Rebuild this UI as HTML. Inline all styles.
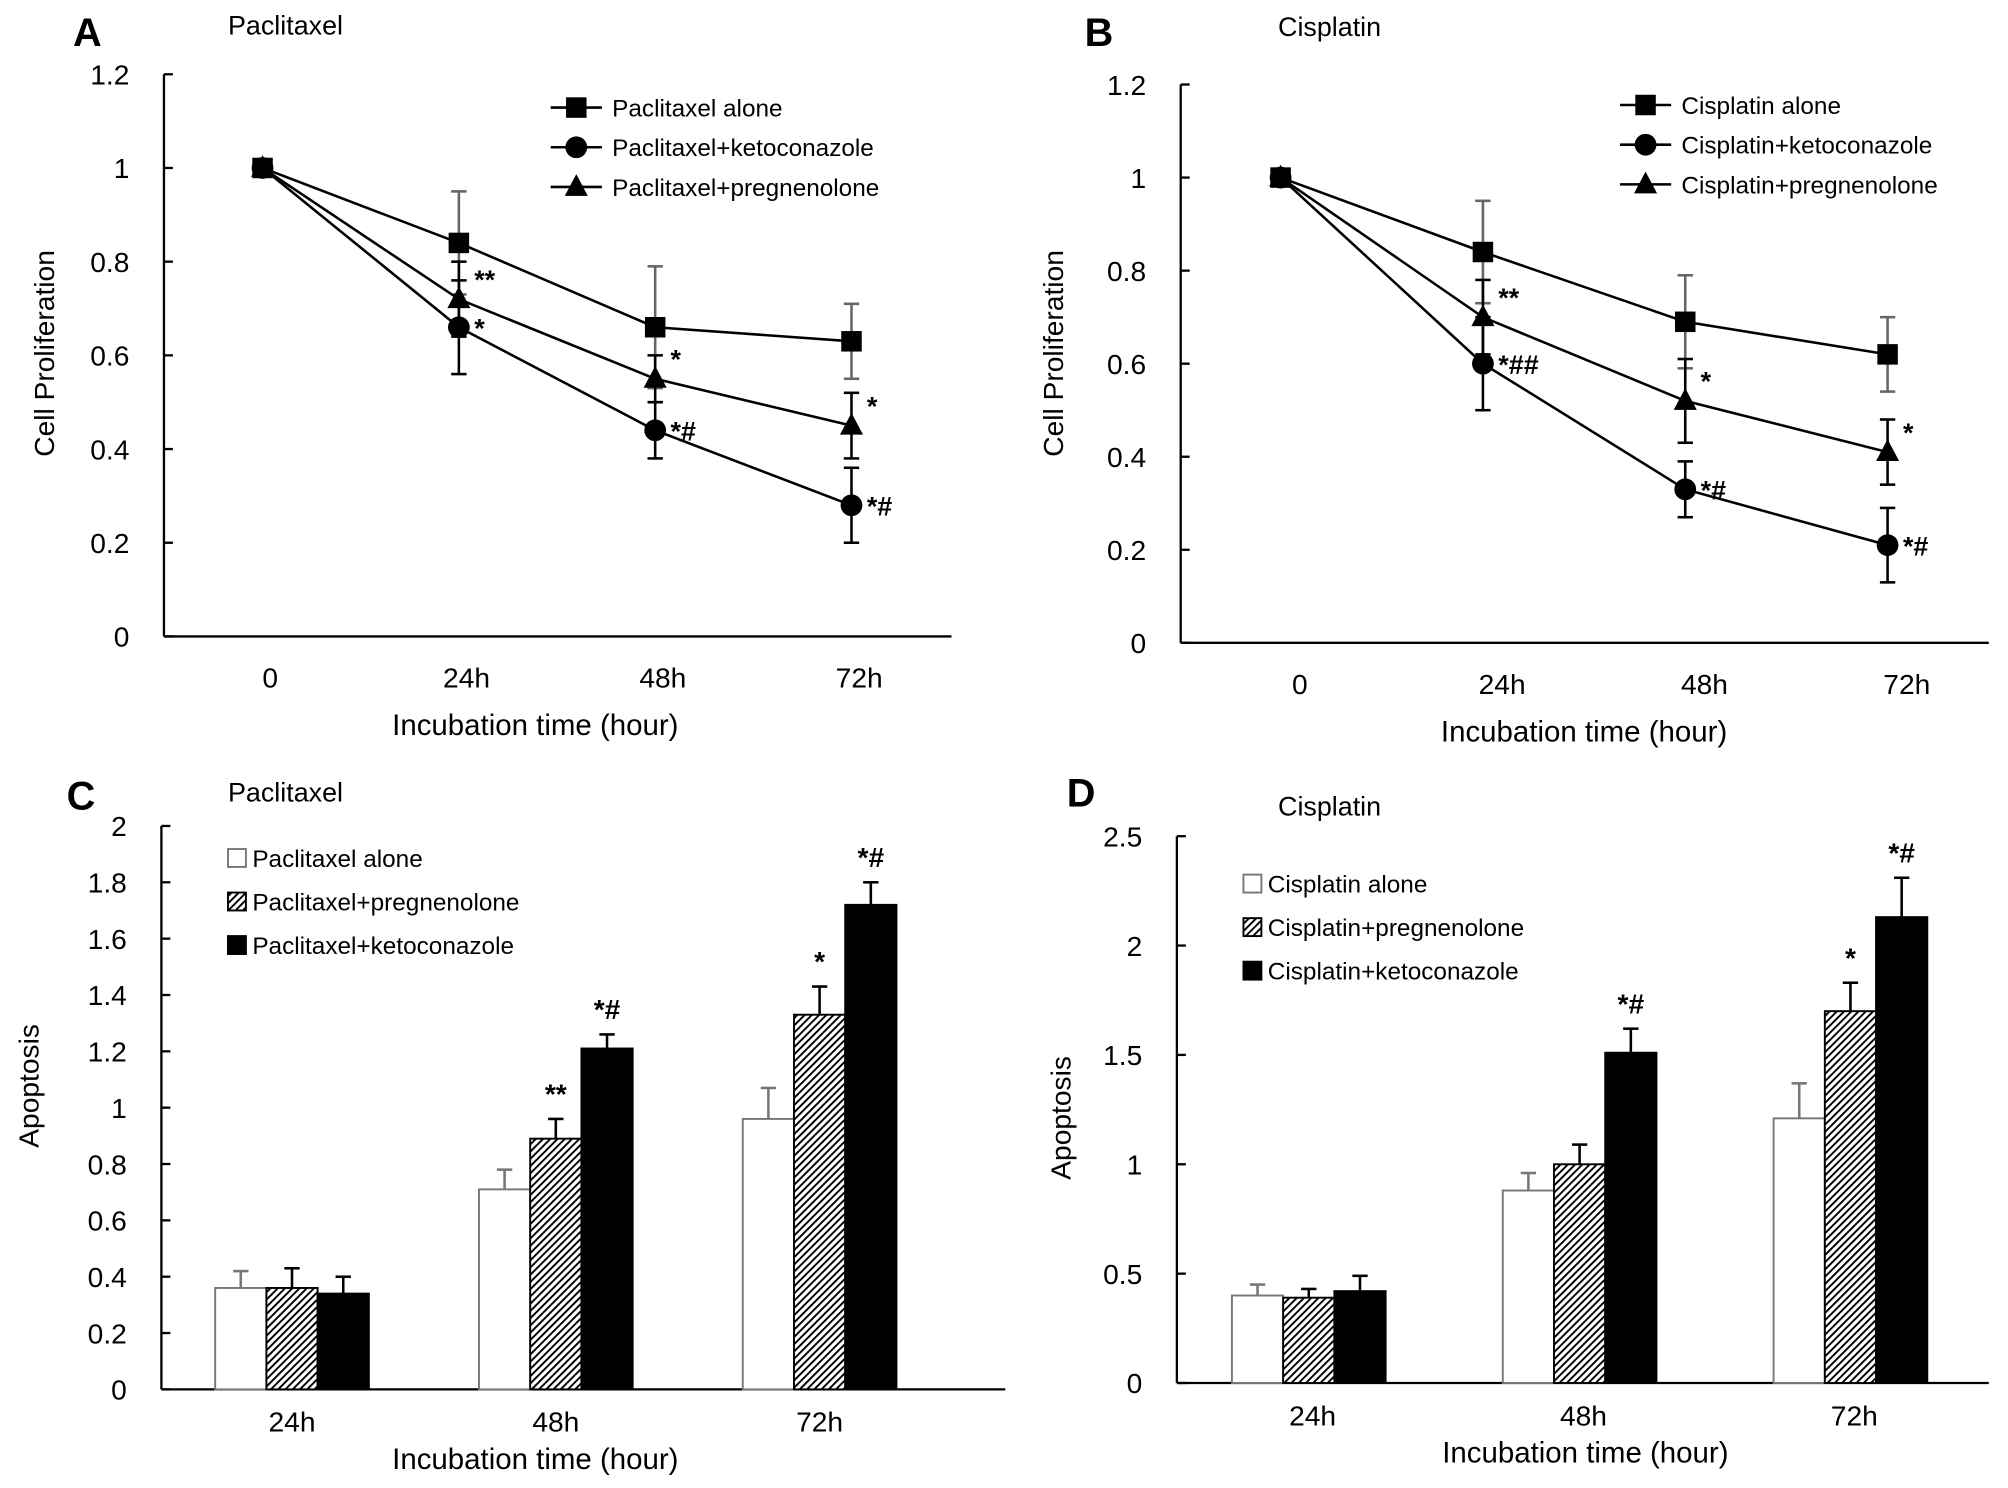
<!DOCTYPE html>
<html><head><meta charset="utf-8"><style>
html,body{margin:0;padding:0;background:#fff;}
svg{display:block;font-family:"Liberation Sans",sans-serif;}
</style></head><body>
<svg id="fig" width="2008" height="1488" viewBox="0 0 1568 1162" xmlns="http://www.w3.org/2000/svg">
<defs>
<pattern id="hatch" patternUnits="userSpaceOnUse" width="4" height="4" patternTransform="rotate(45)">
<rect width="4" height="4" fill="#fff"/><rect width="1.5" height="4" fill="#000"/>
</pattern>
</defs>
</svg>
<script>
// ---------- data ----------
const lineCats = ["0","24h","48h","72h"];
const barCats = ["24h","48h","72h"];
const aAlone = [1,0.84,0.66,0.63], aAloneErr=[0,0.11,0.13,0.08];
const aKeto = [1,0.66,0.44,0.28], aKetoErr=[0,0.10,0.06,0.08];
const aPreg = [1,0.72,0.55,0.45], aPregErr=[0,0.08,0.05,0.07];
const aKetoAnn=["","*","*#","*#"], aPregAnn=["","**","*","*"];
const bAlone = [1,0.84,0.69,0.62], bAloneErr=[0,0.11,0.10,0.08];
const bKeto = [1,0.60,0.33,0.21], bKetoErr=[0,0.10,0.06,0.08];
const bPreg = [1,0.70,0.52,0.41], bPregErr=[0,0.08,0.09,0.07];
const bKetoAnn=["","*##","*#","*#"], bPregAnn=["","**","*","*"];
const lineTicks=[0,0.2,0.4,0.6,0.8,1,1.2];
const cAlone=[0.36,0.71,0.96], cAloneErr=[0.06,0.07,0.11];
const cPreg=[0.36,0.89,1.33], cPregErr=[0.07,0.07,0.10];
const cKeto=[0.34,1.21,1.72], cKetoErr=[0.06,0.05,0.08];
const cPregAnn=["","**","*"], cKetoAnn=["","*#","*#"];
const cTicks=[0,0.2,0.4,0.6,0.8,1,1.2,1.4,1.6,1.8,2];
const dAlone=[0.40,0.88,1.21], dAloneErr=[0.05,0.08,0.16];
const dPreg=[0.39,1.00,1.70], dPregErr=[0.04,0.09,0.13];
const dKeto=[0.42,1.51,2.13], dKetoErr=[0.07,0.11,0.18];
const dPregAnn=["","","*"], dKetoAnn=["","*#","*#"];
const dTicks=[0,0.5,1,1.5,2,2.5];

const svg=document.getElementById('fig');
const NS="http://www.w3.org/2000/svg";
function mk(tag,attrs,parent){const e=document.createElementNS(NS,tag);for(const k in attrs)e.setAttribute(k,attrs[k]);(parent||svg).appendChild(e);return e;}
function txt(x,y,s,size,parent,anchor,weight){const t=mk('text',{x:x,y:y,'font-size':size,'text-anchor':anchor||'start','font-weight':weight||'normal',fill:'#000'},parent);t.textContent=s;return t;}

function marker(g,shape,x,y){
  if(shape==='sq') return mk('rect',{x:x-8,y:y-8,width:16,height:16,fill:'#000'},g);
  if(shape==='ci') return mk('circle',{cx:x,cy:y,r:8.5,fill:'#000'},g);
  return mk('polygon',{points:`${x},${y-10} ${x+9},${y+7} ${x-9},${y+7}`,fill:'#000'},g);
}

function axes(g,ax,ticks){
  mk('line',{x1:ax.x0,y1:ax.yTop,x2:ax.x0,y2:ax.yBot,stroke:'#000','stroke-width':1.8},g);
  mk('line',{x1:ax.x0,y1:ax.yBot,x2:ax.xEnd,y2:ax.yBot,stroke:'#000','stroke-width':1.8},g);
  ticks.forEach(v=>{const y=ax.y(v);
    mk('line',{x1:ax.x0,y1:y,x2:ax.x0+7,y2:y,stroke:'#000','stroke-width':1.8},g);
    const t=txt(ax.x0-27,y+8,String(v),22,g,'end');
    
    
  });
}

function linePanel(o){
  const g=mk('g',{});
  
  
  const ax={x0:o.x0,xEnd:o.xEnd,yTop:o.yTop,yBot:o.yBot,y:v=>o.yBot-(o.yBot-o.yTop)*v/1.2};
  const xs=i=>o.cx0+i*o.dx;
  axes(g,ax,lineTicks);
  lineCats.forEach((c,i)=>{const t=txt(xs(i)+o.lblOff,o.yBot+40,c,22,g,'middle');});
  const series=[{v:o.alone,e:o.aloneErr,s:'sq',lab:o.drug+' alone',ann:null,col:'#666'},
                {v:o.keto,e:o.ketoErr,s:'ci',lab:o.drug+'+ketoconazole',ann:o.ketoAnn,col:'#000'},
                {v:o.preg,e:o.pregErr,s:'tr',lab:o.drug+'+pregnenolone',ann:o.pregAnn,col:'#000'}];
  series.forEach((se,k)=>{
    const sg=mk('g',{},g);
    
    
    const pts=se.v.map((v,i)=>xs(i)+','+ax.y(v)).join(' ');
    mk('polyline',{points:pts,fill:'none',stroke:'#000','stroke-width':2},sg);
    se.v.forEach((v,i)=>{
      if(se.e[i]>0){const x=xs(i);const y1=ax.y(v+se.e[i]),y2=ax.y(v-se.e[i]);
        mk('line',{x1:x,y1:y1,x2:x,y2:y2,stroke:se.col,'stroke-width':2},sg);
        mk('line',{x1:x-6,y1:y1,x2:x+6,y2:y1,stroke:se.col,'stroke-width':2},sg);
        mk('line',{x1:x-6,y1:y2,x2:x+6,y2:y2,stroke:se.col,'stroke-width':2},sg);}
      const m=marker(sg,se.s,xs(i),ax.y(v));
      
      
      if(se.ann&&se.ann[i]){const dy=se.s==='tr'?-8:8;const t=txt(xs(i)+12,ax.y(v)+dy,se.ann[i],21,sg,'start','bold');
        }
    });
    const ly=o.legY+k*31;
    const lg=mk('g',{},g);
    
    
    mk('line',{x1:o.legX,y1:ly,x2:o.legX+40,y2:ly,stroke:'#000','stroke-width':2},lg);
    marker(lg,se.s,o.legX+20,ly);
    txt(o.legX+48,ly+7,se.lab,19,lg);
  });
  const yl=txt(0,0,'Cell Proliferation',22,g,'middle');
  yl.setAttribute('transform',`translate(${o.ylx},${o.yly}) rotate(-90)`);
  
  const xl=txt(o.xtx,o.yBot+77,'Incubation time (hour)',23,g,'middle');
  
  const pl=txt(o.lx,o.ly,o.letter,31,g,'start','bold');
  const pt=txt(o.tx,o.ty,o.drug,21,g);
}

function barPanel(o){
  const g=mk('g',{});
  
  
  const ax={x0:o.x0,xEnd:o.xEnd,yTop:o.yTop,yBot:o.yBot,y:v=>o.yBot-(o.yBot-o.yTop)*v/o.max};
  const xs=i=>o.cx0+i*o.dx;
  axes(g,ax,o.ticks);
  barCats.forEach((c,i)=>{const t=txt(xs(i),o.yBot+33,c,22,g,'middle');});
  const series=[{v:o.alone,e:o.aloneErr,fill:'#fff',stroke:'#777',lab:o.drug+' alone',ann:null,ec:'#777'},
                {v:o.preg,e:o.pregErr,fill:'url(#hatch)',stroke:'#000',lab:o.drug+'+pregnenolone',ann:o.pregAnn,ec:'#000'},
                {v:o.keto,e:o.ketoErr,fill:'#000',stroke:'#000',lab:o.drug+'+ketoconazole',ann:o.ketoAnn,ec:'#000'}];
  series.forEach((se,k)=>{
    se.v.forEach((v,i)=>{
      const x=xs(i)+o.off+k*40;const y=ax.y(v);
      const r=mk('rect',{x:x,y:y,width:40,height:o.yBot-y,fill:se.fill,stroke:se.stroke,'stroke-width':1.5},g);
      
      
      const cx=x+20,ey=ax.y(v+se.e[i]);
      mk('line',{x1:cx,y1:y,x2:cx,y2:ey,stroke:se.ec,'stroke-width':2},g);
      mk('line',{x1:cx-6,y1:ey,x2:cx+6,y2:ey,stroke:se.ec,'stroke-width':2},g);
      if(se.ann&&se.ann[i]){const t=txt(cx,ey-12,se.ann[i],22,g,'middle','bold');
        }
    });
    const ly=o.legY+k*34;
    const lg=mk('g',{},g);
    
    
    mk('rect',{x:o.legX,y:ly-7,width:14,height:14,fill:se.fill,stroke:se.stroke,'stroke-width':1.5},lg);
    txt(o.legX+19,ly+7,se.lab,19,lg);
  });
  const yl=txt(0,0,'Apoptosis',22,g,'middle');
  yl.setAttribute('transform',`translate(${o.ylx},${o.yly}) rotate(-90)`);
  
  const xl=txt(o.xtx,o.yBot+62,'Incubation time (hour)',23,g,'middle');
  
  const pl=txt(o.lx,o.ly,o.letter,31,g,'start','bold');
  const pt=txt(o.tx,o.ty,o.drug,21,g);
}

linePanel({name:'panel-a',letter:'A',drug:'Paclitaxel',x0:128,xEnd:743,yTop:58,yBot:497,cx0:205,dx:153.3,lblOff:6,
  alone:aAlone,aloneErr:aAloneErr,keto:aKeto,ketoErr:aKetoErr,preg:aPreg,pregErr:aPregErr,ketoAnn:aKetoAnn,pregAnn:aPregAnn,
  legX:430,legY:84,ylx:42,yly:276,xtx:418,lx:57,ly:36,tx:178,ty:27});
linePanel({name:'panel-b',letter:'B',drug:'Cisplatin',x0:922,xEnd:1553,yTop:66,yBot:502,cx0:1000,dx:158,lblOff:15,
  alone:bAlone,aloneErr:bAloneErr,keto:bKeto,ketoErr:bKetoErr,preg:bPreg,pregErr:bPregErr,ketoAnn:bKetoAnn,pregAnn:bPregAnn,
  legX:1265,legY:82,ylx:830,yly:276,xtx:1237,lx:847,ly:36,tx:998,ty:28});
barPanel({name:'panel-c',letter:'C',drug:'Paclitaxel',x0:126,xEnd:785,yTop:645,yBot:1085,max:2,ticks:cTicks,cx0:228,dx:206,off:-60,
  alone:cAlone,aloneErr:cAloneErr,preg:cPreg,pregErr:cPregErr,keto:cKeto,ketoErr:cKetoErr,pregAnn:cPregAnn,ketoAnn:cKetoAnn,
  legX:178,legY:670,ylx:30,yly:848,xtx:418,lx:52,ly:632,tx:178,ty:626});
barPanel({name:'panel-d',letter:'D',drug:'Cisplatin',x0:919,xEnd:1553,yTop:653,yBot:1080,max:2.5,ticks:dTicks,cx0:1025,dx:211.5,off:-63,
  alone:dAlone,aloneErr:dAloneErr,preg:dPreg,pregErr:dPregErr,keto:dKeto,ketoErr:dKetoErr,pregAnn:dPregAnn,ketoAnn:dKetoAnn,
  legX:971,legY:690,ylx:836,yly:873,xtx:1238,lx:833,ly:630,tx:998,ty:637});
</script>
</body></html>
